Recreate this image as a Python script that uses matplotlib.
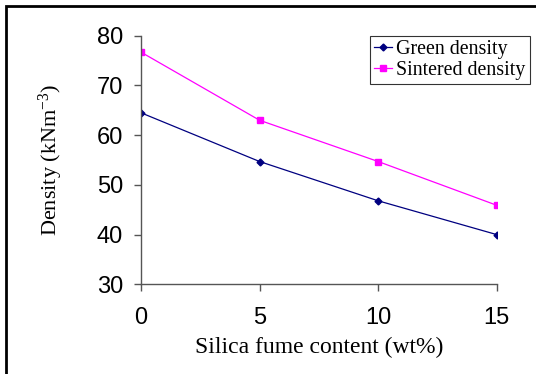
import matplotlib
matplotlib.use("Agg")
import matplotlib.pyplot as plt
from matplotlib.patches import Rectangle

plt.rcParams["mathtext.fontset"] = "custom"
plt.rcParams["mathtext.rm"] = "Liberation Serif"
plt.rcParams["mathtext.it"] = "Liberation Serif:italic"

silica = [0, 5, 10, 15]
green = [64.5, 54.7, 46.8, 40.0]
sintered = [76.7, 63.0, 54.7, 45.9]

fig = plt.figure(figsize=(5.36, 3.74), dpi=100)
ax = fig.add_axes([0.263, 0.2398, 0.6637, 0.6647])

ax.plot(silica, green, "-D", color="#000080", markersize=3.5, linewidth=0.9,
        label="Green density")
ax.plot(silica, sintered, "-s", color="#ff00ff", markersize=5, linewidth=0.9,
        label="Sintered density")

ax.set_xlim(0, 15)
ax.set_ylim(30, 80)
ax.set_xticks([0, 5, 10, 15])
ax.set_yticks([30, 40, 50, 60, 70, 80])
for s in ["top", "right"]:
    ax.spines[s].set_visible(False)
for s in ["left", "bottom"]:
    ax.spines[s].set_color("#555555")
    ax.spines[s].set_linewidth(1.0)
ax.tick_params(direction="out", length=5, width=1.0, color="#555555",
               labelsize=17)
ax.tick_params(axis="x", pad=11)
ax.tick_params(axis="y", pad=8)
for t in ax.get_xticklabels() + ax.get_yticklabels():
    t.set_family("Liberation Sans")

ax.set_xlabel("Silica fume content (wt%)", family="Liberation Serif",
              fontsize=17, labelpad=6)
ax.set_ylabel("Density (kNm$^{\\mathrm{-3}}$)", family="Liberation Serif",
              fontsize=16, labelpad=23)

leg = ax.legend(loc="upper left", bbox_to_anchor=(0.645, 1.0),
                prop={"family": "Liberation Serif", "size": 14.4},
                frameon=True, fancybox=False, borderpad=0.2,
                labelspacing=0.1, handlelength=0.9, handletextpad=0.2,
                borderaxespad=0.0)
leg.get_frame().set_edgecolor("black")
leg.get_frame().set_linewidth(0.8)

fig.patches.append(Rectangle((6 / 536, -0.1), 1.2, 1 - 6 / 374 + 0.1,
                             transform=fig.transFigure, fill=False,
                             edgecolor="black", linewidth=2))

fig.savefig("out.png", dpi=100)
